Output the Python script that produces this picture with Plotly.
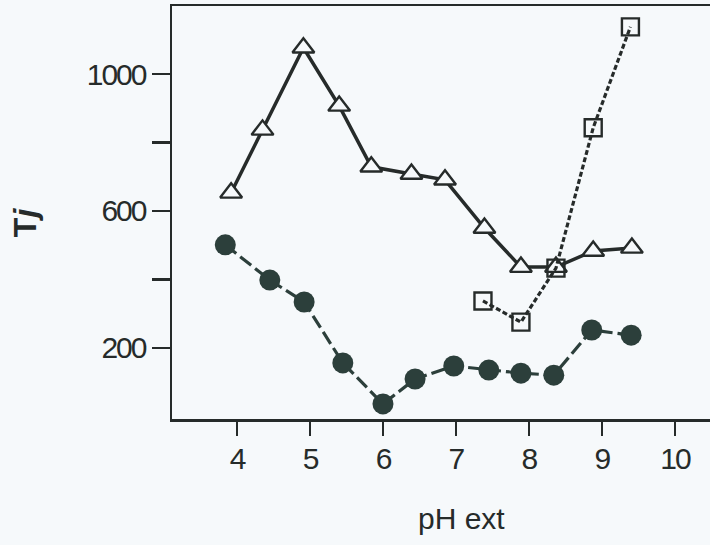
import plotly.graph_objects as go

# Data
tri_x = [3.92, 4.35, 4.91, 5.40, 5.84, 6.39, 6.85, 7.39, 7.89, 8.37, 8.88, 9.41]
tri_y = [653, 837, 1077, 907, 729, 708, 691, 550, 436, 436, 483, 492]

circ_x = [3.84, 4.45, 4.92, 5.45, 6.00, 6.44, 6.97, 7.45, 7.89, 8.34, 8.86, 9.40]
circ_y = [501, 398, 334, 156, 36, 109, 147, 135, 126, 120, 252, 237]

sq_x = [7.37, 7.89, 8.37, 8.88, 9.39]
sq_y = [337, 275, 433, 843, 1138]

x_ticks = [4, 5, 6, 7, 8, 9, 10]
y_ticks = [200, 400, 600, 800, 1000]
y_ticktext = ["200", "", "600", "", "1000"]

BG = "#f6f9fb"
INK = "#262b2a"
DOT = "#2c3f3b"
FONT = "Liberation Sans, Arial, sans-serif"

fig = go.Figure()

fig.add_trace(go.Scatter(
    x=circ_x, y=circ_y, mode="lines+markers",
    line=dict(color=DOT, width=3.2, dash="14px,5px"),
    marker=dict(symbol="circle", size=21, color=DOT, line=dict(width=0)),
    showlegend=False,
))

fig.add_trace(go.Scatter(
    x=tri_x, y=tri_y, mode="lines+markers",
    line=dict(color=INK, width=3.5),
    marker=dict(symbol="triangle-up", size=19, color=BG,
                line=dict(color=INK, width=2.4)),
    showlegend=False,
))

fig.add_trace(go.Scatter(
    x=sq_x, y=sq_y, mode="lines+markers",
    line=dict(color=INK, width=3.2, dash="5px,2.5px"),
    marker=dict(symbol="square-open", size=17, color=INK,
                line=dict(color=INK, width=2.4)),
    showlegend=False,
))

fig.update_layout(
    width=710, height=545,
    margin=dict(l=172, r=0, t=6, b=126),
    paper_bgcolor=BG, plot_bgcolor=BG,
    font=dict(family=FONT, size=30, color=INK),
    xaxis=dict(
        range=[3.11, 10.48], tickvals=x_ticks, automargin=False,
        showline=True, linecolor=INK, linewidth=2.5, mirror=True,
        ticks="outside", ticklen=14, tickwidth=2.5, tickcolor=INK,
        ticklabelstandoff=-3,
        showgrid=False, zeroline=False,
        tickfont=dict(family=FONT, size=30, color=INK),
    ),
    yaxis=dict(
        range=[-8, 1199], tickvals=y_ticks, ticktext=y_ticktext,
        automargin=False,
        showline=True, linecolor=INK, linewidth=2.5, mirror=False,
        ticks="outside", ticklen=18, tickwidth=2.5, tickcolor=INK,
        showgrid=False, zeroline=False,
        tickfont=dict(family=FONT, size=30, color=INK),
    ),
    annotations=[
        dict(text="pH ext", xref="paper", yref="paper",
             x=0.539, y=-0.24, showarrow=False,
             xanchor="center", yanchor="middle",
             font=dict(family=FONT, size=30, color=INK)),
        dict(text="<b>T<i>j</i></b>", xref="paper", yref="paper",
             x=-0.273, y=0.477, showarrow=False, textangle=-90,
             xanchor="center", yanchor="middle",
             font=dict(family=FONT, size=32, color=INK)),
    ],
)

fig.write_html(
    "out.html",
    config={"displayModeBar": False, "staticPlot": True},
    post_script="document.body.style.margin='0';"
                "document.body.style.background='" + BG + "';"
                "document.body.style.overflow='hidden';"
                "document.querySelectorAll('.xtick text, .ytick text')"
                ".forEach(function(t){t.style.letterSpacing='-2px';});",
)
